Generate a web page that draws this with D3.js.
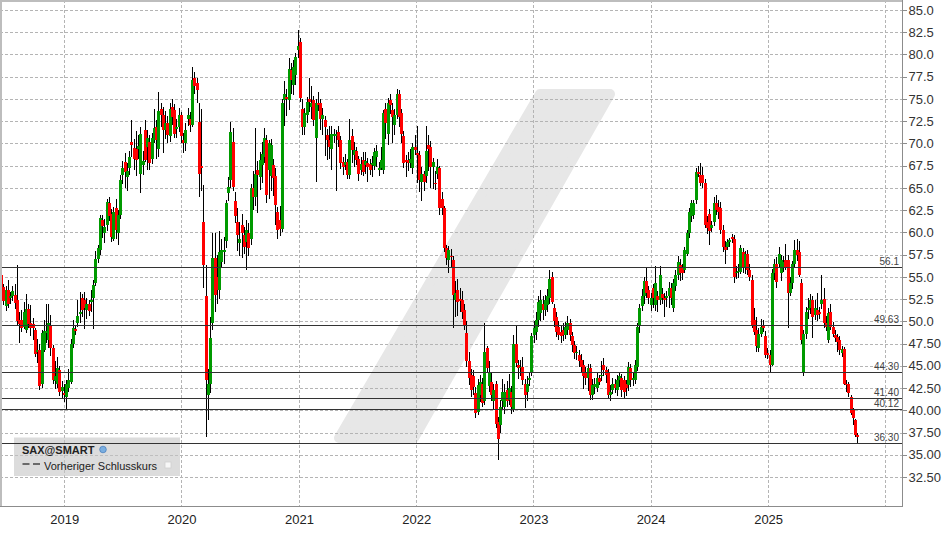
<!DOCTYPE html>
<html><head><meta charset="utf-8">
<script src="https://cdn.jsdelivr.net/npm/d3@7"></script>
<style>
html,body{margin:0;padding:0;background:#fff;}
svg{display:block;font-family:"Liberation Sans",Arial,Helvetica,sans-serif;}
</style>
</head><body>
<svg id="chart" width="948" height="534"></svg>
<script>
// ---- data (weekly candles, SAX) ----
const firstWeek = "2018-06-18";
const open = [
55.2,53.9,51.7,53.5,52.6,52.8,53.0,52.4,50.1,50.1,
49.4,49.0,51.4,49.8,49.7,49.0,46.5,46.8,42.9,46.8,
48.7,47.9,49.6,47.0,43.3,43.0,44.5,42.2,41.9,41.5,
42.5,43.2,47.5,49.1,49.8,50.9,52.6,52.4,51.3,51.9,
52.2,52.6,54.3,57.0,58.0,61.4,59.9,60.8,63.3,62.1,
59.3,62.7,59.9,61.9,66.4,67.9,66.2,67.2,70.2,69.5,
69.4,69.4,66.6,67.6,71.5,69.6,70.2,68.3,70.4,71.9,
69.4,73.9,73.2,71.5,72.3,70.8,74.1,73.8,71.6,71.9,
73.2,70.4,70.0,72.8,72.8,72.1,77.3,76.8,72.4,67.5,
61.2,52.8,41.7,42.9,49.8,57.1,55.0,53.5,56.7,57.8,
59.0,64.4,65.9,70.2,63.5,61.2,58.8,60.8,59.7,58.9,
59.9,59.2,65.0,64.0,67.0,66.2,67.6,68.5,70.4,67.0,
66.3,67.6,66.3,62.3,61.4,60.4,74.9,75.2,74.9,78.3,
76.6,77.7,80.5,81.4,73.9,71.9,73.2,75.0,74.1,74.9,
70.6,74.5,74.5,72.8,72.6,71.0,70.4,69.4,70.8,70.8,
71.3,70.4,67.9,67.6,67.9,66.4,70.8,68.7,69.1,68.3,
67.0,68.1,67.6,67.8,67.7,67.6,67.5,68.5,67.0,67.2,
67.0,73.9,71.1,74.9,73.8,72.1,73.2,75.6,73.4,70.8,
68.1,68.1,67.8,67.2,69.6,68.9,68.7,65.7,66.6,66.3,
69.8,69.6,67.4,65.6,66.6,67.2,63.8,62.7,58.2,56.9,
57.4,56.9,52.4,53.5,52.5,52.4,51.3,48.7,45.5,44.0,
43.9,41.9,39.8,41.7,43.0,41.0,47.0,42.7,43.2,41.0,
43.0,38.7,38.3,41.0,40.4,42.3,41.2,42.1,40.2,47.5,
45.1,44.7,44.9,43.0,42.1,43.4,44.2,48.5,48.8,50.1,
50.9,52.0,51.3,51.8,52.6,55.0,51.5,50.5,49.4,48.8,
49.0,48.5,49.0,49.8,48.3,47.3,46.5,46.2,45.7,45.1,
44.3,43.6,44.7,41.7,42.6,42.5,43.6,43.8,45.1,44.5,
44.2,41.7,42.3,43.0,42.3,43.4,43.6,43.4,43.0,42.8,
44.7,43.4,43.4,44.9,49.6,51.7,52.8,54.5,53.5,51.8,
53.7,51.8,52.8,52.4,53.1,52.6,52.6,52.8,53.7,51.5,
54.0,55.2,56.3,56.0,55.8,57.6,59.9,61.8,62.0,63.6,
66.8,66.5,66.5,65.5,61.2,62.1,60.5,61.2,63.3,62.9,
62.7,60.3,58.4,58.4,58.9,59.5,59.3,55.4,55.5,55.6,
57.8,56.1,57.6,55.8,54.6,50.1,49.0,47.0,48.6,49.6,
48.3,46.4,46.2,45.1,55.4,56.5,56.5,55.4,56.1,56.9,
56.9,53.2,54.3,56.5,58.0,57.8,54.3,44.3,48.6,51.3,
51.5,52.4,50.7,51.3,51.0,51.9,52.5,49.8,47.9,51.1,
49.4,48.5,48.2,47.9,46.4,46.9,43.0,43.0,41.5,40.0,
38.9,37.2];
const high = [
55.6,54.2,54.0,54.6,53.3,54.0,54.2,56.3,51.0,51.3,
52.2,53.1,51.9,51.8,50.4,49.3,48.0,47.4,49.0,50.2,
52.0,51.9,50.7,47.3,45.5,46.0,45.0,43.3,42.9,43.4,
44.6,48.0,50.1,49.6,52.4,53.3,53.1,53.3,52.6,52.4,
53.5,54.6,57.9,58.6,62.0,61.9,61.5,63.8,64.0,62.6,
62.8,63.7,62.5,66.4,68.0,68.9,67.8,69.2,72.6,70.5,
71.4,70.9,71.9,69.2,72.6,71.5,71.0,71.2,73.9,72.6,
75.8,74.5,74.1,73.7,73.1,74.5,75.0,74.4,72.7,74.0,
73.5,71.2,72.3,74.0,73.5,78.6,78.0,77.4,74.5,73.9,
65.3,56.3,44.6,50.5,59.9,59.9,57.5,60.2,59.2,59.5,
63.6,66.2,72.4,71.7,64.5,62.7,61.2,62.1,60.6,61.4,
61.0,65.4,66.9,71.7,68.0,69.0,70.2,71.7,71.0,70.4,
70.5,68.2,67.2,62.8,63.0,75.0,77.0,76.1,79.6,79.0,
79.4,80.2,82.7,81.8,75.0,74.0,75.2,77.3,76.4,75.3,
75.0,75.8,75.0,74.0,73.1,71.6,72.0,72.0,71.6,71.5,
72.0,70.8,68.5,68.8,68.3,72.8,71.6,70.2,69.6,68.6,
68.5,69.0,69.0,68.4,68.2,68.6,69.5,69.8,67.9,69.6,
73.8,74.5,75.1,75.6,74.6,73.9,76.1,76.0,73.9,71.4,
68.7,69.0,69.4,70.0,71.0,72.0,69.2,67.3,66.9,72.0,
70.9,70.3,68.4,66.9,68.2,67.5,64.5,63.0,58.6,58.5,
58.1,57.4,54.5,54.8,53.8,53.4,52.0,50.0,46.6,44.6,
44.5,42.6,43.5,44.0,43.6,49.8,47.2,45.5,44.3,43.0,
43.3,39.2,41.2,43.5,43.0,43.3,44.1,42.7,48.5,49.6,
45.7,45.6,46.0,43.5,43.9,44.2,48.7,50.0,51.0,52.9,
53.5,52.8,53.0,53.6,55.8,55.6,52.0,51.0,50.0,49.5,
49.8,49.9,50.6,50.3,48.8,47.8,47.2,46.8,46.3,45.6,
44.9,45.2,45.2,43.5,43.6,44.3,44.0,45.5,45.9,44.9,
44.6,42.8,43.6,43.5,44.0,44.3,44.1,43.8,43.4,45.4,
45.2,44.2,45.6,49.8,52.0,53.6,55.0,56.1,54.0,53.2,
54.2,56.2,53.4,56.2,53.8,53.2,53.4,54.4,54.3,54.8,
55.8,57.3,57.0,56.4,58.4,60.3,62.7,63.6,63.6,67.2,
67.5,67.8,67.4,66.0,61.8,62.6,61.3,64.0,64.2,63.6,
63.4,60.8,59.0,59.2,59.4,59.8,59.7,56.2,56.4,58.6,
58.2,57.9,58.0,56.4,55.2,51.5,50.5,49.2,50.3,50.2,
48.9,47.0,46.8,55.9,57.0,57.2,58.4,57.5,57.3,58.7,
57.5,55.0,56.8,59.1,59.3,59.0,54.8,49.0,51.6,52.6,
53.1,52.9,52.4,53.2,51.6,55.2,53.8,50.6,51.5,52.0,
49.9,49.0,48.6,48.3,47.2,47.1,43.4,43.2,41.7,40.3,
39.0,37.4];
const low = [
53.4,51.8,51.2,51.5,51.9,52.3,51.4,49.6,47.6,48.8,
49.1,48.7,49.2,48.3,47.9,46.0,45.3,42.3,42.5,46.5,
47.6,47.0,46.1,43.0,42.4,42.5,41.6,41.4,40.9,40.2,
42.0,43.0,47.0,48.5,49.4,49.8,50.5,49.1,50.3,50.6,
51.0,49.1,54.0,56.6,57.5,59.4,58.8,60.2,61.3,58.9,
59.0,59.2,58.6,61.5,65.4,65.0,64.6,66.5,68.5,67.0,
66.3,68.2,64.4,66.5,67.9,67.0,67.0,67.7,70.0,68.2,
68.5,71.8,68.9,70.5,70.0,70.2,72.1,70.6,70.6,71.3,
70.0,68.9,69.2,72.0,71.3,71.8,75.6,74.5,64.0,64.6,
53.7,37.0,38.9,41.9,49.0,51.0,52.0,52.5,56.0,56.5,
58.3,63.5,65.0,64.6,61.0,57.9,57.3,57.1,57.6,55.8,
57.4,58.6,62.5,63.0,62.2,64.8,65.6,67.8,63.3,63.7,
64.6,64.1,60.8,59.3,59.6,60.0,72.0,73.1,73.8,75.6,
75.4,76.6,79.6,74.7,71.0,70.9,72.3,73.5,72.8,72.0,
65.7,73.6,71.5,71.0,68.6,68.1,68.3,67.0,70.0,64.6,
69.6,67.1,66.4,67.0,66.0,66.0,67.8,67.4,67.6,65.8,
66.5,66.3,66.6,65.7,66.4,66.2,67.0,67.4,66.3,67.0,
66.6,70.5,69.8,73.3,70.0,71.0,72.8,71.8,70.1,67.2,
66.2,66.9,67.2,66.6,68.7,65.5,64.5,63.5,64.7,65.6,
66.9,65.0,64.9,64.8,66.0,62.0,61.9,57.8,56.3,55.4,
56.0,49.2,50.5,50.6,51.0,50.3,49.0,44.9,42.8,41.5,
41.7,39.1,39.5,40.9,40.4,40.6,44.2,42.0,41.0,40.1,
38.0,34.4,37.4,40.2,39.6,40.4,40.6,39.6,39.8,44.9,
43.5,43.8,42.8,40.3,41.1,42.7,43.8,47.6,47.9,49.4,
50.0,50.2,50.6,51.1,52.0,51.9,49.4,48.2,47.9,47.6,
47.8,48.0,48.5,47.8,46.6,45.8,45.6,44.9,44.3,42.4,
42.8,42.2,41.2,41.2,41.8,42.0,42.8,43.3,43.8,43.1,
41.3,41.0,41.8,41.9,41.6,42.6,41.5,41.3,41.6,42.2,
42.6,42.7,42.9,44.4,48.7,51.2,52.0,52.6,51.9,51.2,
51.5,51.2,51.0,51.8,52.0,50.5,51.6,51.5,51.8,51.0,
53.4,54.6,54.5,54.7,55.4,57.3,59.4,61.2,61.5,63.2,
66.2,65.2,65.0,60.5,59.8,58.6,60.0,60.7,62.0,61.5,
59.8,57.8,56.5,58.0,58.4,58.8,54.3,54.8,54.9,55.3,
55.4,55.3,55.2,54.5,49.2,48.5,46.6,46.5,48.2,48.8,
45.9,45.8,44.3,45.0,54.6,53.8,56.0,54.5,55.6,55.8,
49.2,52.8,53.6,56.0,56.8,55.0,47.5,43.9,48.0,50.3,
50.8,48.1,50.1,50.0,50.3,51.4,49.3,48.9,47.6,49.0,
48.2,47.7,46.6,46.2,46.0,42.8,42.0,41.5,39.5,38.3,
37.0,36.3];
const close = [
53.9,52.3,53.5,52.0,52.9,53.4,52.1,50.0,49.7,49.2,
51.1,51.4,49.7,49.3,49.2,46.3,46.8,42.7,48.7,48.9,
48.9,49.8,47.0,43.4,43.8,44.7,42.1,42.6,41.8,43.0,
43.4,47.5,49.2,49.0,50.6,51.0,51.3,51.5,51.9,51.2,
52.4,54.1,57.0,58.2,61.6,60.7,60.6,63.4,61.8,59.5,
62.3,60.3,61.9,65.9,67.2,66.8,66.9,68.5,69.8,68.2,
68.1,69.7,71.1,68.0,68.1,70.6,67.8,70.6,71.7,70.4,
73.6,73.2,71.5,72.3,71.0,73.9,73.0,71.1,71.9,73.2,
70.8,70.0,71.5,73.2,72.1,77.1,76.4,76.0,66.6,67.2,
56.3,43.4,43.0,48.1,57.1,53.0,53.5,57.8,58.0,58.0,
63.3,65.1,71.3,65.1,61.8,59.7,59.3,59.9,58.4,60.3,
58.2,65.0,64.0,66.6,66.4,68.1,68.8,70.6,64.2,70.0,
69.8,66.1,63.1,60.3,60.4,74.5,75.6,75.0,78.4,77.1,
78.6,79.7,80.9,75.1,71.9,73.4,74.7,74.7,74.5,72.6,
74.5,74.3,72.8,73.2,71.9,70.4,69.6,71.1,71.1,71.1,
70.4,67.8,67.4,67.9,66.4,70.4,69.3,69.3,68.1,66.6,
67.7,66.8,68.0,67.4,67.0,67.8,69.0,69.1,67.2,68.1,
73.4,72.3,74.5,74.3,73.0,73.2,75.6,73.0,71.1,67.8,
67.9,67.8,68.3,69.6,69.3,68.7,65.9,66.6,65.7,69.1,
69.4,67.4,67.9,65.4,67.3,62.7,62.7,58.2,57.1,58.0,
57.3,53.0,53.2,52.2,52.4,51.1,49.6,45.5,43.6,42.3,
42.6,39.7,42.8,43.2,40.8,46.6,44.7,44.2,41.7,42.3,
38.5,36.8,40.4,42.1,42.1,41.0,42.5,40.4,47.5,45.3,
44.7,44.9,43.4,41.7,43.0,43.6,48.3,49.2,50.1,52.2,
52.4,51.3,52.4,52.8,54.8,52.2,50.0,48.8,48.5,48.3,
48.5,49.4,49.8,48.5,47.3,46.4,46.6,45.5,44.9,43.8,
43.6,44.7,41.7,42.8,43.0,43.6,43.2,44.0,44.5,44.0,
41.7,42.0,43.0,42.5,43.4,43.9,42.3,42.1,42.5,44.9,
43.4,43.6,45.1,49.4,51.5,52.8,54.5,53.2,52.6,52.6,
52.6,54.3,52.4,55.2,52.6,52.4,52.8,53.7,52.6,54.3,
55.2,56.7,55.4,55.4,58.0,59.9,62.3,63.3,63.3,66.8,
66.6,65.5,65.5,60.8,60.5,60.1,60.8,63.3,62.5,62.3,
60.3,58.4,58.0,58.9,59.1,59.3,55.0,55.6,55.7,58.2,
56.1,57.6,55.8,55.0,49.6,48.8,47.2,48.6,49.4,49.2,
46.2,46.2,45.1,55.4,56.5,54.4,57.6,56.9,56.7,56.1,
53.2,54.3,56.5,58.0,57.5,55.2,47.9,48.6,51.1,51.5,
52.4,50.5,51.5,50.7,50.9,52.4,49.8,49.4,50.9,49.4,
48.6,48.1,47.7,46.8,46.9,43.0,42.8,41.9,39.7,39.1,
37.2,37.0];

const yTickValues = [32.5,35,37.5,40,42.5,45,47.5,50,52.5,55,57.5,60,62.5,65,67.5,70,72.5,75,77.5,80,82.5,85];
const yTickLabels = ["32.50","35.00","37.50","40.00","42.50","45.00","47.50","50.0","52.5","55.0","57.5","60.0","62.5","65.0","67.5","70.0","72.5","75.0","77.5","80.0","82.5","85.0"];
const yearGrid = ["2019-01-01","2020-01-01","2021-01-01","2022-01-01","2023-01-01","2024-01-01","2025-01-01","2026-01-01"];
const yearLabels = ["2019","2020","2021","2022","2023","2024","2025",""];
const levels = [56.1, 49.63, 44.30, 41.40, 40.12, 36.30];
const levelLabels = ["56.1","49.63","44.30","41.40","40.12","36.30"];
const legendTitle = "SAX@SMART";
const legendItem = "Vorheriger Schlusskurs";

// ---- layout ----
const W = 948, H = 534;
const plot = {left: 0, right: 902, top: 0, bottom: 506};
const parse = d3.utcParse("%Y-%m-%d");
const x = d3.scaleUtc().domain([parse("2019-01-01"), parse("2026-01-01")]).range([64.3, 885.3]);
const y = d3.scaleLinear().domain([32.5, 85]).range([477, 10]);

const svg = d3.select("#chart");
svg.append("rect").attr("width", W).attr("height", H).attr("fill", "#fff");

// watermark slash
svg.append("path")
  .attr("d", "M540,94 L610,94 L414,438 L339,438 Z")
  .attr("fill", "#e7e7e7").attr("stroke", "#e7e7e7")
  .attr("stroke-width", 10).attr("stroke-linejoin", "round");

// grid
const grid = svg.append("g").attr("shape-rendering", "crispEdges");
grid.selectAll("line.h").data(yTickValues).join("line")
  .attr("x1", plot.left).attr("x2", plot.right)
  .attr("y1", d => Math.round(y(d)) + 0.5).attr("y2", d => Math.round(y(d)) + 0.5)
  .attr("stroke", "#b4b4b4").attr("stroke-dasharray", "3,2");
grid.selectAll("line.v").data(yearGrid).join("line")
  .attr("x1", d => Math.round(x(parse(d))) + 0.5).attr("x2", d => Math.round(x(parse(d))) + 0.5)
  .attr("y1", plot.top).attr("y2", plot.bottom)
  .attr("stroke", "#b4b4b4").attr("stroke-dasharray", "3,2");

// candles
const start = parse(firstWeek);
const candles = close.map((c, i) => ({
  date: d3.utcDay.offset(start, 7 * i), o: open[i], h: high[i], l: low[i], c: c
}));
const cg = svg.append("g").attr("shape-rendering", "crispEdges");
cg.selectAll("line").data(candles).join("line")
  .attr("x1", d => Math.round(x(d.date)) + 0.5).attr("x2", d => Math.round(x(d.date)) + 0.5)
  .attr("y1", d => y(d.h)).attr("y2", d => y(d.l))
  .attr("stroke", "#000").attr("stroke-width", 1);
cg.selectAll("rect").data(candles).join("rect")
  .attr("x", d => Math.round(x(d.date)) - 1)
  .attr("width", 3)
  .attr("y", d => y(Math.max(d.o, d.c)))
  .attr("height", d => Math.max(1.5, Math.abs(y(d.o) - y(d.c))))
  .attr("fill", d => d.c >= d.o ? "#009a00" : "#ff0000");

// legend box
const lg = svg.append("g");
lg.append("rect").attr("x", 14).attr("y", 437.5).attr("width", 166).attr("height", 38.5)
  .attr("fill", "#c4c4c4").attr("fill-opacity", 0.6);
lg.append("text").attr("x", 22).attr("y", 453.5).attr("font-size", 11).attr("font-weight", "bold")
  .attr("fill", "#222").text(legendTitle);
lg.append("circle").attr("cx", 103).attr("cy", 449.5).attr("r", 3.3)
  .attr("fill", "#7aaee0").attr("stroke", "#4d82bf").attr("stroke-width", 0.8);
lg.append("line").attr("x1", 22.5).attr("x2", 40).attr("y1", 464).attr("y2", 464)
  .attr("stroke", "#444").attr("stroke-width", 1.6).attr("stroke-dasharray", "7,3.5");
lg.append("text").attr("x", 44).attr("y", 470).attr("font-size", 11)
  .attr("fill", "#222").text(legendItem);
lg.append("rect").attr("x", 165).attr("y", 462).attr("width", 6).attr("height", 6)
  .attr("fill", "#f7f7f7").attr("stroke", "#d0d0d0").attr("stroke-width", 0.8);

// level lines
const lv = svg.append("g");
lv.selectAll("line").data(levels).join("line")
  .attr("shape-rendering", "crispEdges")
  .attr("x1", plot.left).attr("x2", plot.right)
  .attr("y1", d => Math.round(y(d)) + 0.5).attr("y2", d => Math.round(y(d)) + 0.5)
  .attr("stroke", "#333").attr("stroke-width", 1);
lv.selectAll("text").data(levels).join("text")
  .attr("x", 899).attr("y", d => Math.round(y(d)) - 2)
  .attr("text-anchor", "end").attr("font-size", 10).attr("fill", "#444")
  .text((d, i) => levelLabels[i]);

// frame
const fr = svg.append("g").attr("shape-rendering", "crispEdges");
fr.append("line").attr("x1", 0).attr("x2", plot.right).attr("y1", 0.5).attr("y2", 0.5).attr("stroke", "#bdbdbd").attr("stroke-width", 2);
fr.append("line").attr("x1", 0.5).attr("x2", 0.5).attr("y1", 0).attr("y2", plot.bottom).attr("stroke", "#bdbdbd").attr("stroke-width", 2);
fr.append("line").attr("x1", plot.right + 0.5).attr("x2", plot.right + 0.5).attr("y1", 0).attr("y2", plot.bottom + 1).attr("stroke", "#8c8c8c");
fr.append("line").attr("x1", 0).attr("x2", plot.right + 1).attr("y1", plot.bottom + 0.5).attr("y2", plot.bottom + 0.5).attr("stroke", "#8c8c8c");

// right axis
const yAxis = d3.axisRight(y).tickValues(yTickValues).tickSize(4).tickPadding(2)
  .tickFormat((d, i) => yTickLabels[i]);
const ya = svg.append("g").attr("transform", `translate(${plot.right + 0.5},0)`).call(yAxis);
ya.select(".domain").remove();
ya.selectAll(".tick line").attr("stroke", "#8c8c8c").attr("shape-rendering", "crispEdges");
ya.selectAll(".tick text").attr("font-size", 13).attr("fill", "#333")
  .attr("font-family", "'Liberation Sans', Arial, sans-serif");

// bottom axis labels
const xAxis = d3.axisBottom(x).tickValues(yearGrid.map(parse)).tickSize(0).tickPadding(9)
  .tickFormat((d, i) => yearLabels[i]);
const xa = svg.append("g").attr("transform", `translate(0,${plot.bottom})`).call(xAxis);
xa.select(".domain").remove();
xa.selectAll(".tick text").attr("font-size", 13).attr("fill", "#222")
  .attr("font-family", "'Liberation Sans', Arial, sans-serif");
</script>
</body></html>
